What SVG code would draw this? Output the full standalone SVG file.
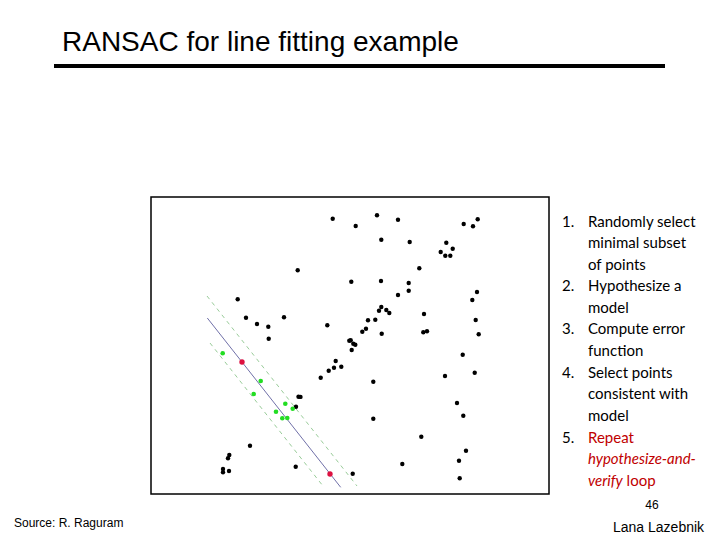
<svg xmlns="http://www.w3.org/2000/svg" width="720" height="540" viewBox="0 0 720 540">
<style>
.t{font-family:"Liberation Sans",Arial,sans-serif}
.l{font-family:Lato,"Open Sans",sans-serif;font-size:15px;fill:#000}
.r{fill:#c00000}
.b{fill:#000}.g{fill:#22dd22}.rd{fill:#dd1040}
</style>
<rect width="720" height="540" fill="#fff"/>
<g id="title">
<text class="t" x="62" y="51" font-size="28">RANSAC for line fitting example</text>
<line x1="54" y1="66" x2="665" y2="66" stroke="#000" stroke-width="4"/>
</g>
<g id="plot">
<rect x="151" y="197" width="398" height="297" fill="#fff" stroke="#000" stroke-width="1.5"/>
<g id="connectors">
<line x1="207.3" y1="318" x2="340.7" y2="487.3" stroke="#7070a8" stroke-width="1"/>
<line x1="207" y1="296" x2="357" y2="486" stroke="#9c9" stroke-width="1" stroke-dasharray="4,4"/>
<line x1="210" y1="343" x2="323" y2="486" stroke="#9c9" stroke-width="1" stroke-dasharray="4,4"/>
</g>
<g class="b">
<circle cx="332.7" cy="218.7" r="2.2"/><circle cx="297.7" cy="270.3" r="2.2"/><circle cx="237.7" cy="299.3" r="2.2"/>
<circle cx="246" cy="317.7" r="2.2"/><circle cx="257" cy="324" r="2.2"/><circle cx="268.3" cy="326.7" r="2.2"/>
<circle cx="268.7" cy="338.7" r="2.2"/><circle cx="284" cy="317.3" r="2.2"/><circle cx="327.3" cy="325.3" r="2.2"/>
<circle cx="349.3" cy="340.7" r="2.2"/><circle cx="335.7" cy="361" r="2.2"/><circle cx="334" cy="367.7" r="2.2"/>
<circle cx="341.3" cy="366.7" r="2.2"/><circle cx="328.7" cy="370.7" r="2.2"/><circle cx="320.7" cy="377.7" r="2.2"/>
<circle cx="298.5" cy="396.7" r="2.2"/><circle cx="300.5" cy="396.9" r="2.2"/><circle cx="296" cy="406.7" r="2.2"/>
<circle cx="250" cy="445.7" r="2.2"/><circle cx="229.3" cy="455" r="2.2"/><circle cx="228" cy="458.3" r="2.2"/>
<circle cx="223" cy="469" r="2.2"/><circle cx="223" cy="472.3" r="2.2"/><circle cx="229" cy="471" r="2.2"/>
<circle cx="295.7" cy="466.7" r="2.2"/>
<circle cx="377" cy="215.3" r="2.2"/><circle cx="398" cy="219.7" r="2.2"/><circle cx="355.7" cy="226" r="2.2"/>
<circle cx="381.3" cy="239.7" r="2.2"/><circle cx="409.7" cy="242" r="2.2"/><circle cx="463.7" cy="224" r="2.2"/>
<circle cx="473" cy="226.3" r="2.2"/><circle cx="477.7" cy="219.3" r="2.2"/><circle cx="446.3" cy="242.7" r="2.2"/>
<circle cx="452.7" cy="248.7" r="2.2"/><circle cx="440.7" cy="252" r="2.2"/><circle cx="445.3" cy="255.7" r="2.2"/>
<circle cx="450.3" cy="255.7" r="2.2"/><circle cx="419.3" cy="268.3" r="2.2"/><circle cx="351.3" cy="281.7" r="2.2"/>
<circle cx="381" cy="281" r="2.2"/><circle cx="408.7" cy="283" r="2.2"/><circle cx="408.7" cy="290.7" r="2.2"/>
<circle cx="398" cy="295" r="2.2"/><circle cx="477" cy="292" r="2.2"/><circle cx="472.3" cy="300" r="2.2"/>
<circle cx="381.3" cy="307" r="2.2"/><circle cx="379" cy="310.7" r="2.2"/><circle cx="386.3" cy="310" r="2.2"/>
<circle cx="389.3" cy="313" r="2.2"/><circle cx="424" cy="314" r="2.2"/><circle cx="368" cy="320.3" r="2.2"/>
<circle cx="375.3" cy="319.7" r="2.2"/><circle cx="475.7" cy="320" r="2.2"/><circle cx="366" cy="328.7" r="2.2"/>
<circle cx="362.3" cy="331.7" r="2.2"/><circle cx="381.7" cy="333.7" r="2.2"/><circle cx="423.3" cy="332.3" r="2.2"/>
<circle cx="427" cy="331.3" r="2.2"/><circle cx="478.7" cy="334.3" r="2.2"/><circle cx="350.7" cy="340.3" r="2.2"/>
<circle cx="353.3" cy="343.7" r="2.2"/><circle cx="355.3" cy="344.7" r="2.2"/><circle cx="351.7" cy="350" r="2.2"/>
<circle cx="462.7" cy="354.7" r="2.2"/><circle cx="474.7" cy="372.7" r="2.2"/><circle cx="445" cy="376" r="2.2"/>
<circle cx="373.3" cy="381.7" r="2.2"/><circle cx="457" cy="403" r="2.2"/><circle cx="463.3" cy="415.7" r="2.2"/>
<circle cx="373.3" cy="418.7" r="2.2"/><circle cx="421.3" cy="436.7" r="2.2"/><circle cx="466" cy="450.7" r="2.2"/>
<circle cx="459" cy="460.7" r="2.2"/><circle cx="402.3" cy="464" r="2.2"/><circle cx="352.7" cy="473.7" r="2.2"/>
<circle cx="459.7" cy="478.3" r="2.2"/>
</g>
<g class="g">
<circle cx="222.7" cy="353.3" r="2.3"/><circle cx="260.7" cy="381" r="2.3"/><circle cx="253.7" cy="394" r="2.3"/>
<circle cx="285.3" cy="403.7" r="2.3"/><circle cx="276" cy="411.7" r="2.3"/><circle cx="292.7" cy="408.7" r="2.3"/>
<circle cx="282.3" cy="418.3" r="2.3"/><circle cx="287.3" cy="418" r="2.3"/>
</g>
<g class="rd"><circle cx="242" cy="362" r="2.7"/><circle cx="330" cy="474" r="2.7"/></g>
</g>
<g id="steps">
<text class="l" x="562" y="227">1.</text><text class="l" x="588" y="227">Randomly select</text>
<text class="l" x="588" y="248">minimal subset</text>
<text class="l" x="588" y="270">of points</text>
<text class="l" x="562" y="291">2.</text><text class="l" x="588" y="291">Hypothesize a</text>
<text class="l" x="588" y="313">model</text>
<text class="l" x="562" y="334">3.</text><text class="l" x="588" y="334">Compute error</text>
<text class="l" x="588" y="356">function</text>
<text class="l" x="562" y="378">4.</text><text class="l" x="588" y="378">Select points</text>
<text class="l" x="588" y="399">consistent with</text>
<text class="l" x="588" y="421">model</text>
<text class="l" x="562" y="443">5.</text><text class="l r" x="588" y="443">Repeat</text>
<text class="l r" x="588" y="464" font-style="italic">hypothesize-and-</text>
<text class="l r" x="588" y="486"><tspan font-style="italic">verify</tspan> loop</text>
</g>
<g id="footer">
<text class="t" x="652" y="509" font-size="12" text-anchor="middle">46</text>
<text class="t" x="14" y="527" font-size="12">Source: R. Raguram</text>
<text class="t" x="613" y="532" font-size="14">Lana Lazebnik</text>
</g>
</svg>
